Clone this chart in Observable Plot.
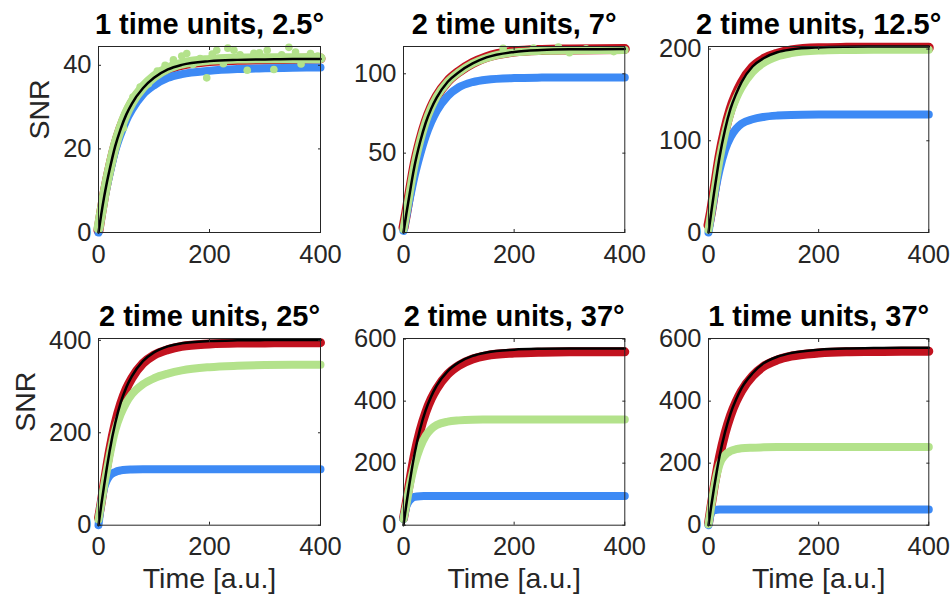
<!DOCTYPE html>
<html><head><meta charset="utf-8">
<script src="https://cdn.jsdelivr.net/npm/d3@7"></script>
<script src="https://cdn.jsdelivr.net/npm/@observablehq/plot@0.6"></script>
<style>
body{margin:0;background:#fff;}
#chart{position:relative;width:951px;height:602px;background:#fff;overflow:hidden;}
#chart svg{position:absolute;}
</style></head><body><div id="chart"></div>
<script>
// ---- data ----
const times = [0,5,10,15,20,30,40,50,60,80,100,125,150,200,250,300,350,400];
const xTicks = [0,200,400];

const titles = ["1 time units, 2.5°","2 time units, 7°","2 time units, 12.5°","2 time units, 25°","2 time units, 37°","1 time units, 37°"];
const yMax = [44.5, 117.2, 202.8, 404, 602, 602];
const yTicks = [[0,20,40],[0,50,100],[0,100,200],[0,200,400],[0,200,400,600],[0,200,400,600]];

const fit1 = [0,4.4,8.4,11.9,15,20.6,24.8,28.2,30.8,34.5,37,39,40.1,41,41.3,41.4,41.5,41.5];
const red1 = [0.5,4.8,8.7,12.2,15.3,20.8,25,28.3,30.9,34.5,37,39,40.1,41,41.3,41.4,41.5,41.6];
const green1 = [1,4.8,8.7,12.2,15.3,20.9,25.1,28.5,31.1,34.8,37.3,39.3,40.4,41.3,41.6,41.7,41.7,41.7];
const blue1 = [0,4,7.8,11,14,19.5,23.5,26.8,29.3,33,35.2,37,37.9,38.7,39.1,39.3,39.4,39.5];
const noiseT1 = [35,45,55,62,75,90,106,120,135,150,159,170,183,195,205,213,225,233,244,255,268,280,290,304,316,330,343,355,365,382,395];
const noiseY1 = [23.5,25,30,32.4,34.8,35.6,38.6,40,41.3,42.2,42.8,40.2,41.6,37,42.7,43.6,40.4,44.1,43.6,42.5,38.8,42.9,43,43.6,39,42.5,44.3,43.2,40.3,42.8,42.2];

const fit2 = [0,11.5,22,32.5,42,57,69,78,85,95,101,106.5,110.3,113.8,115,115.4,115.5,115.6];
const red2 = [3,12.5,23,33.2,42.8,57.8,69.8,78.8,85.8,95.3,101.3,106.8,110.5,114,115,115.3,115.5,115.6];
const green2 = [2,12,22.5,33,42.5,57.5,69.5,78.5,85.5,95,101,106.5,110,113.5,114.5,114.8,115,115];
const blue2 = [1,10,19,27.5,35.5,49,60.5,69.5,76.5,86,91.5,94.8,96.3,97.3,97.6,97.7,97.7,97.7];
const noiseT2 = [180,235,280,330,300,380];
const noiseY2 = [116,116.3,116.8,115.8,113.3,114];

const fit3 = [0,22,43,63,82,112,135,151,164,181,190,196.5,199.5,201.8,202.5,202.7,202.8,202.8];
const red3 = [8,24,44,63.5,82.5,112,134.5,150.5,163,180,189,195,198.5,200.8,201.3,201.5,201.5,201.5];
const green3 = [3,22,42,61,79,108,130,146,158,175,185,192,195.5,198.3,199,199.3,199.3,199.3];
const blue3 = [0,20,38,54,68,90,104,113,118.5,123.5,126,127.5,128.2,128.6,128.7,128.7,128.7,128.7];

const fit4 = [0,44,85,124,160,220,265,298,322,355,374,387,393.5,398.5,400,400.5,400.7,400.8];
const red4 = [15,50,90,127,162,220,263,295,318,350,368,380,387,392,394,394.5,395,395];
const green4 = [12,48,85,118,150,205,240,265,283,305,318,328,335,342,345,346.5,347,347];
const blue4 = [0,50,80,97,107,115,118.5,120,120.5,121,121,121,121,121,121,121,121,121];

const fit5 = [0,65,125,180,230,310,370,415,450,497,525,546,557,566,569,570,570,570];
const red5 = [22,72,128,180,228,305,363,407,440,487,515,536,547,555,558,559,559,559];
const green5 = [20,65,115,158,195,250,288,310,323,334,338,340,340.5,341,341,341,341,341];
const blue5 = [20,60,78,87,91,93.5,94,94.5,94.5,94.5,94.5,94.5,94.5,94.5,94.5,94.5,94.5,94.5];

const fit6 = [0,62,120,173,222,300,360,405,442,490,522,543,555,566,570,571,572,572];
const red6 = [5,65,122,173,220,296,354,398,433,481,512,533,545,555,559,560,561,561];
const green6 = [3,62,118,162,196,226,239,245,248,250,251,252,252.3,252.5,252.5,252.5,252.5,252.5];
const blue6 = [0,40,48,50,50.5,50.5,50.5,50.5,50.5,50.5,50.5,50.5,50.5,50.5,50.5,50.5,50.5,50.5];

// ---- build ----
const RED = "#c2121f", GREEN = "#b3e28b", BLUE = "#3d8af5", INK = "#262626";
const FONT = "'Liberation Sans', Arial, Helvetica, sans-serif";
const series = [
  [fit1, red1, green1, blue1, noiseT1, noiseY1],
  [fit2, red2, green2, blue2, noiseT2, noiseY2],
  [fit3, red3, green3, blue3, [], []],
  [fit4, red4, green4, blue4, [], []],
  [fit5, red5, green5, blue5, [], []],
  [fit6, red6, green6, blue6, [], []]
];
const colLeft = [98, 402.7, 707.7], colW = [222, 221.3, 220.3];
const rowTop = [46, 338.3], rowH = [186, 186.7];
const snrOffset = [-59, -73];
const mL = 85, mR = 40, mT = 50, mB = 80;
const chart = document.getElementById("chart");

series.forEach(([fit, red, green, blue, nT, nY], k) => {
  const row = Math.floor(k / 3), col = k % 3;
  const fw = colW[col], fh = rowH[row];
  const data = times.map((t, i) => ({t, fit: fit[i], red: red[i], green: green[i], blue: blue[i]}));
  const noise = nT.map((t, i) => ({t, y: nY[i]}));
  const lineOpts = {x: "t", curve: "monotone-x", strokeLinecap: "round", strokeLinejoin: "round"};
  const marks = [
    Plot.line(data, {...lineOpts, y: "red", stroke: RED, strokeWidth: row === 0 ? 10 : 9}),
    Plot.line(data, {...lineOpts, y: "blue", stroke: BLUE, strokeWidth: 8}),
    Plot.line(data, {...lineOpts, y: "green", stroke: GREEN, strokeWidth: k === 0 ? 10 : 8}),
    Plot.dot(noise, {x: "t", y: "y", r: 3.8, fill: GREEN}),
    Plot.line(data, {...lineOpts, y: "fit", stroke: "#000", strokeWidth: 2.5}),
    Plot.frame({stroke: INK, strokeWidth: 1}),
    Plot.axisX(xTicks, {anchor: "bottom", tickSize: 0, tickPadding: 12, fontSize: 25.5, fill: INK, label: null}),
    Plot.axisX(xTicks, {anchor: "bottom", tickSize: -3, stroke: INK, tickFormat: () => "", label: null}),
    Plot.axisX(xTicks, {anchor: "top", tickSize: -3, stroke: INK, tickFormat: () => "", label: null}),
    Plot.axisY(yTicks[k], {anchor: "left", tickSize: 0, tickPadding: 7, fontSize: 25.5, fill: INK, label: null}),
    Plot.axisY(yTicks[k], {anchor: "left", tickSize: -3, stroke: INK, tickFormat: () => "", label: null}),
    Plot.axisY(yTicks[k], {anchor: "right", tickSize: -3, stroke: INK, tickFormat: () => "", label: null}),
    Plot.text([titles[k]], {text: d => d, frameAnchor: "top", dy: -33, fontSize: 29, fontWeight: "bold", fill: "#000"})
  ];
  if (col === 0) marks.push(Plot.text(["SNR"], {text: d => d, frameAnchor: "left", dx: snrOffset[row], rotate: -90, fontSize: 28.5, fill: INK}));
  if (row === 1) marks.push(Plot.text(["Time [a.u.]"], {text: d => d, frameAnchor: "bottom", dy: 63, fontSize: 28.5, fill: INK}));
  const svg = Plot.plot({
    width: mL + fw + mR, height: mT + fh + mB,
    marginLeft: mL, marginRight: mR, marginTop: mT, marginBottom: mB,
    x: {domain: [0, 400]},
    y: {domain: [0, yMax[k]]},
    style: {background: "transparent", overflow: "visible", fontFamily: FONT, maxWidth: "none"},
    marks
  });
  svg.style.left = (colLeft[col] - mL) + "px";
  svg.style.top = (rowTop[row] - mT) + "px";
  chart.appendChild(svg);
});
</script>
</body></html>
